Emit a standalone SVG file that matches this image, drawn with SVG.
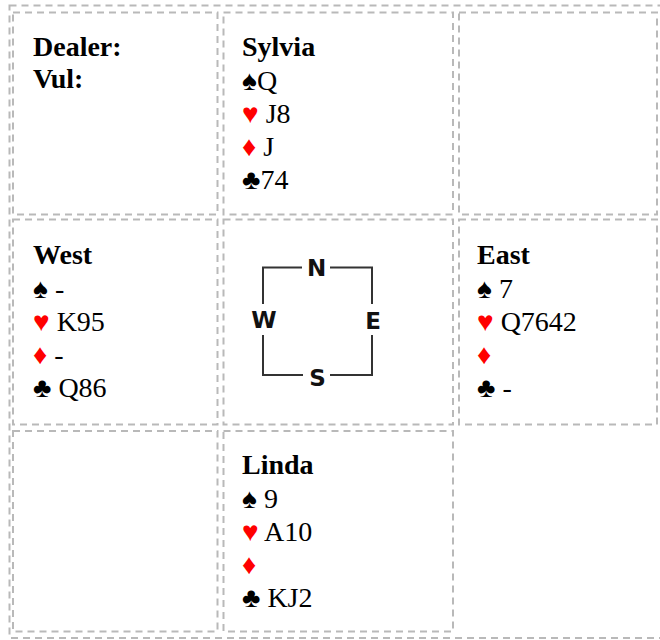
<svg xmlns="http://www.w3.org/2000/svg" width="660" height="640" viewBox="0 0 660 640">
<style>
.cell{fill:none;stroke:#b9b9b9;stroke-width:2;stroke-dasharray:7 5}
.t{font-family:"Liberation Serif","Times New Roman",serif;font-size:28px;fill:#000}
.b{font-weight:bold}
.r{fill:#f00}
.cl{fill:none;stroke:#333;stroke-width:2}
.c{font-family:"DejaVu Sans",Verdana,sans-serif;font-weight:bold;font-size:23px;fill:#111;text-anchor:middle}
</style>
<rect x="0" y="0" width="660" height="640" fill="#fff"/>
<rect id="table" class="cell" x="9.5" y="5.5" width="660" height="632.5"/>
<g id="info">
<rect class="cell" x="13" y="12.5" width="204.5" height="202"/>
<text class="t b" x="33" y="56">Dealer:</text>
<text class="t b" x="33" y="88">Vul:</text>
</g>
<g id="north">
<rect class="cell" x="223.5" y="12.5" width="229.5" height="202"/>
<text class="t b" x="242" y="56">Sylvia</text>
<text class="t" x="242" y="90">♠Q</text>
<text class="t" x="242" y="123"><tspan class="r">♥</tspan> J8</text>
<text class="t" x="242" y="156"><tspan class="r">♦</tspan> J</text>
<text class="t" x="242" y="189">♣74</text>
</g>
<g id="empty-ne">
<rect class="cell" x="459" y="12.5" width="198" height="202"/>
</g>
<g id="west">
<rect class="cell" x="13" y="219.5" width="204.5" height="205"/>
<text class="t b" x="33" y="264">West</text>
<text class="t" x="33" y="298">♠ -</text>
<text class="t" x="33" y="331"><tspan class="r">♥</tspan> K95</text>
<text class="t" x="33" y="364"><tspan class="r">♦</tspan> -</text>
<text class="t" x="33" y="397">♣ Q86</text>
</g>
<g id="compass">
<rect class="cell" x="223.5" y="219.5" width="229.5" height="205"/>
<path class="cl" d="M302 267.5H263V304M263 335V375H303M330 375H372V335M372 304V267.5H330"/>
<text class="c" x="316.5" y="275.5">N</text>
<text class="c" x="264" y="328">W</text>
<text class="c" x="373" y="328.5">E</text>
<text class="c" x="317.5" y="386">S</text>
</g>
<g id="east">
<rect class="cell" x="459" y="219.5" width="198" height="205"/>
<text class="t b" x="477" y="264">East</text>
<text class="t" x="477" y="298">♠ 7</text>
<text class="t" x="477" y="331"><tspan class="r">♥</tspan> Q7642</text>
<text class="t" x="477" y="364"><tspan class="r">♦</tspan></text>
<text class="t" x="477" y="397">♣ -</text>
</g>
<g id="empty-sw">
<rect class="cell" x="13" y="431" width="204.5" height="200.5"/>
</g>
<g id="south">
<rect class="cell" x="223.5" y="431" width="229.5" height="200.5"/>
<text class="t b" x="242" y="474">Linda</text>
<text class="t" x="242" y="508">♠ 9</text>
<text class="t" x="242" y="541"><tspan class="r">♥</tspan> A10</text>
<text class="t" x="242" y="574"><tspan class="r">♦</tspan></text>
<text class="t" x="242" y="607">♣ KJ2</text>
</g>
<g id="connectors"></g>
</svg>
